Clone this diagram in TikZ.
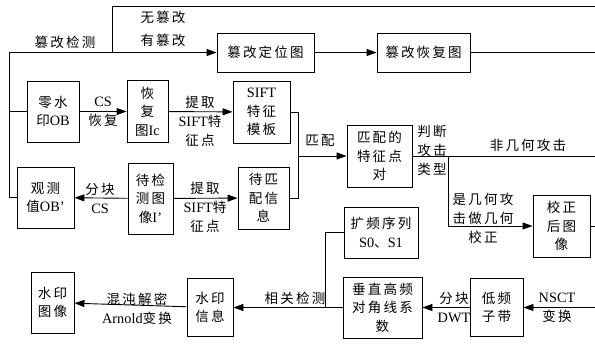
\documentclass[tikz,border=0pt]{standalone}
\usepackage{fontspec}
\setmainfont[Scale=1.1]{Liberation Serif}
\newfontfamily\zh[LetterSpace=16,Scale=1.04]{Noto Sans CJK SC}
\newcommand\zz[1]{{\zh #1}}
\usetikzlibrary{arrows.meta}
\begin{document}
\begin{tikzpicture}[x=1pt,y=-1pt,
  box/.style={draw,line width=0.9pt,align=center,inner sep=0pt,font=\fontsize{13}{18.5}\selectfont},
  lbl/.style={align=center,inner sep=0pt,font=\fontsize{13}{19}\selectfont},
  ln/.style={line width=0.9pt},
  arr/.style={ln,-{Triangle[length=10pt,width=7pt]}}]
\fill[white] (0,0) rectangle (595,347);
\useasboundingbox (0,0) rectangle (595,347);
% boxes
\node[box,minimum width=97pt,minimum height=39pt] (tamloc) at (265.5,52.5) {\zz{篡改定位图}};
\node[box,minimum width=93pt,minimum height=39pt] (tamrec) at (423.5,52.5) {\zz{篡改恢复图}};
\node[box,minimum width=52pt,minimum height=61pt] (ob) at (53,111.5) {\zz{零水}\\\zz{印}OB};
\node[box,minimum width=41pt,minimum height=62pt] (ic) at (147.5,111.5) {\zz{恢}\\\zz{复}\\\zz{图}Ic};
\node[box,minimum width=57pt,minimum height=62pt] (sift) at (261.5,112) {SIFT\\\zz{特征}\\\zz{模板}};
\node[box,minimum width=57pt,minimum height=61pt] (obp) at (45.5,197.5) {\zz{观测}\\\zz{值}OB’};
\node[box,minimum width=45pt,minimum height=71pt] (ip) at (150.5,198.5) {\zz{待检}\\\zz{测图}\\\zz{像}I’};
\node[box,minimum width=51pt,minimum height=62pt] (tm) at (263.5,198) {\zz{待匹}\\\zz{配信}\\\zz{息}};
\node[box,minimum width=65pt,minimum height=62pt] (mp) at (379.5,156) {\zz{匹配的}\\\zz{特征点}\\\zz{对}};
\node[box,minimum width=57pt,minimum height=62pt] (cor) at (561.5,226) {\zz{校正}\\\zz{后图}\\\zz{像}};
\node[box,minimum width=74pt,minimum height=51pt] (ss) at (381,232.5) {\zz{扩频序列}\\S0\zz{、}S1};
\node[box,minimum width=79pt,minimum height=61pt] (vh) at (382.5,307.5) {\zz{垂直高频}\\\zz{对角线系}\\\zz{数}};
\node[box,minimum width=53pt,minimum height=58pt] (lf) at (496.5,307.5) {\zz{低频}\\\zz{子带}};
\node[box,minimum width=46pt,minimum height=58pt] (wi) at (210,307.5) {\zz{水印}\\\zz{信息}};
\node[box,minimum width=43pt,minimum height=61pt] (wimg) at (52.5,302.5) {\zz{水印}\\\zz{图像}};
% free ends at the right edge
\coordinate (e1) at (595,6);
\coordinate (e2) at (595,52.5);
\coordinate (e3) at (595,156);
\coordinate (e4) at (595,226);
\coordinate (e5) at (595,307.5);
% tamper detection
\draw[arr] (obp.west) -- ++(-7.5,0) coordinate (L) |- (tamloc.west);
\draw[ln] (ob.west) -- (ob.west -| L);
\coordinate (j1) at (112,52.5);
\draw[ln] (j1) |- (e1);
\draw[arr] (tamloc) -- (tamrec);
\draw[ln] (tamrec.east) -- (e2);
% recovery / SIFT
\draw[arr] (ob) -- (ic);
\draw[arr] (ic) -- (sift);
\draw[arr] (ip) -- (obp);
\draw[arr] (ip) -- (tm);
\draw[ln] (sift.east) -- ++(8,0) coordinate (r1) |- (tm.east);
\draw[arr] (r1 |- mp.west) -- (mp.west);
% attack type
\draw[ln] (mp.east) -- (e3);
\draw[arr] (mp.east) ++(36,0) coordinate (j2) |- (cor.west);
\draw[ln] (cor.east) -- (e4);
% extraction
\draw[arr] (e5) -- (lf.east);
\draw[arr] (lf) -- (vh);
\draw[arr] (vh.west) -- (wi.east);
\draw[ln] (vh.west) ++(-17,0) coordinate (j3) |- (ss.west);
\draw[arr] (wi) -- (wimg);
% labels
\node[lbl] (t1) at (65,42) {\zz{篡改检测}};
\node[lbl] (t2) at (163,17) {\zz{无篡改}};
\node[lbl] (t3) at (163,40) {\zz{有篡改}};
\node[lbl] (t4) at (103,112) {CS\\\zz{恢复}};
\node[lbl] (t5) at (200,121) {\zz{提取}\\SIFT\zz{特}\\\zz{征点}};
\node[lbl] (t6) at (100,198) {\zz{分块}\\CS};
\node[lbl] (t7) at (205,207) {\zz{提取}\\SIFT\zz{特}\\\zz{征点}};
\node[lbl] (t8) at (320,141) {\zz{匹配}};
\node[lbl] (t9) at (432,150) {\zz{判断}\\\zz{攻击}\\\zz{类型}};
\node[lbl] (t10) at (528,145) {\zz{非几何攻击}};
\node[lbl] (t11) at (483,218) {\zz{是几何攻}\\\zz{击做几何}\\\zz{校正}};
\node[lbl] (t12) at (295,298) {\zz{相关检测}};
\node[lbl] (t13) at (454,307.5) {\zz{分块}\\DWT};
\node[lbl] (t14) at (557,307.5) {NSCT\\\zz{变换}};
\node[lbl] (t15) at (137,308.5) {\zz{混沌解密}\\Arnold\zz{变换}};
\end{tikzpicture}
\end{document}
